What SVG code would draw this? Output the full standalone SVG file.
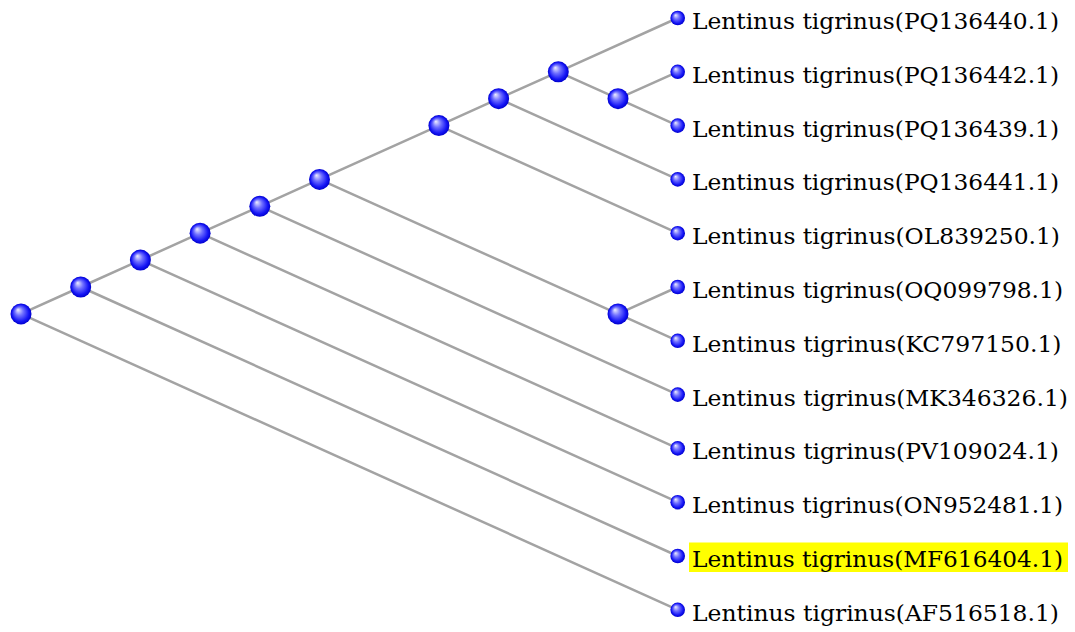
<svg xmlns="http://www.w3.org/2000/svg" width="1075" height="632" viewBox="0 0 1075 632">
<defs>
<radialGradient id="ball" cx="0.5" cy="0.5" r="0.5" fx="0.35" fy="0.3">
<stop offset="0" stop-color="#eeeeff"/>
<stop offset="0.4" stop-color="#7070ff"/>
<stop offset="0.8" stop-color="#1515f5"/>
<stop offset="1" stop-color="#0000cc"/>
</radialGradient>
</defs>
<style>
.e{stroke:#a3a3a3;stroke-width:2.5;fill:none;stroke-linecap:round}
.n{fill:url(#ball)}
</style>
<rect width="1075" height="632" fill="#ffffff"/>
<g id="connectors">
<line class="e" x1="21" y1="313.9" x2="80.7" y2="287"/>
<line class="e" x1="21" y1="313.9" x2="677.7" y2="609.8"/>
<line class="e" x1="80.7" y1="287" x2="140.4" y2="260.1"/>
<line class="e" x1="80.7" y1="287" x2="677.7" y2="556"/>
<line class="e" x1="140.4" y1="260.1" x2="200.1" y2="233.2"/>
<line class="e" x1="140.4" y1="260.1" x2="677.7" y2="502.2"/>
<line class="e" x1="200.1" y1="233.2" x2="259.8" y2="206.3"/>
<line class="e" x1="200.1" y1="233.2" x2="677.7" y2="448.4"/>
<line class="e" x1="259.8" y1="206.3" x2="319.5" y2="179.4"/>
<line class="e" x1="259.8" y1="206.3" x2="677.7" y2="394.6"/>
<line class="e" x1="319.5" y1="179.4" x2="438.9" y2="125.6"/>
<line class="e" x1="319.5" y1="179.4" x2="618" y2="313.9"/>
<line class="e" x1="618" y1="313.9" x2="677.7" y2="287"/>
<line class="e" x1="618" y1="313.9" x2="677.7" y2="340.8"/>
<line class="e" x1="438.9" y1="125.6" x2="498.6" y2="98.7"/>
<line class="e" x1="438.9" y1="125.6" x2="677.7" y2="233.2"/>
<line class="e" x1="498.6" y1="98.7" x2="558.3" y2="71.8"/>
<line class="e" x1="498.6" y1="98.7" x2="677.7" y2="179.4"/>
<line class="e" x1="558.3" y1="71.8" x2="677.7" y2="18"/>
<line class="e" x1="558.3" y1="71.8" x2="618" y2="98.7"/>
<line class="e" x1="618" y1="98.7" x2="677.7" y2="71.8"/>
<line class="e" x1="618" y1="98.7" x2="677.7" y2="125.6"/>
</g>
<g id="internal-nodes">
<circle id="n0" class="n" cx="21" cy="313.9" r="10.5"/>
<circle id="n1" class="n" cx="80.7" cy="287" r="10.5"/>
<circle id="n2" class="n" cx="140.4" cy="260.1" r="10.5"/>
<circle id="n3" class="n" cx="200.1" cy="233.2" r="10.5"/>
<circle id="n4" class="n" cx="259.8" cy="206.3" r="10.5"/>
<circle id="n5" class="n" cx="319.5" cy="179.4" r="10.5"/>
<circle id="n6" class="n" cx="438.9" cy="125.6" r="10.5"/>
<circle id="n7" class="n" cx="498.6" cy="98.7" r="10.5"/>
<circle id="n8" class="n" cx="558.3" cy="71.8" r="10.5"/>
<circle id="n9" class="n" cx="618" cy="98.7" r="10.5"/>
<circle id="n10" class="n" cx="618" cy="313.9" r="10.5"/>
</g>
<g id="leaves" font-family="'DejaVu Serif', serif" font-size="22.5" fill="#000000">
<g id="leaf-PQ136440"><circle class="n" cx="677.7" cy="18" r="7.3"/><text x="692" y="29" textLength="367" lengthAdjust="spacingAndGlyphs">Lentinus tigrinus(PQ136440.1)</text></g>
<g id="leaf-PQ136442"><circle class="n" cx="677.7" cy="71.8" r="7.3"/><text x="692" y="82.8" textLength="367" lengthAdjust="spacingAndGlyphs">Lentinus tigrinus(PQ136442.1)</text></g>
<g id="leaf-PQ136439"><circle class="n" cx="677.7" cy="125.6" r="7.3"/><text x="692" y="136.6" textLength="367" lengthAdjust="spacingAndGlyphs">Lentinus tigrinus(PQ136439.1)</text></g>
<g id="leaf-PQ136441"><circle class="n" cx="677.7" cy="179.4" r="7.3"/><text x="692" y="190.4" textLength="367" lengthAdjust="spacingAndGlyphs">Lentinus tigrinus(PQ136441.1)</text></g>
<g id="leaf-OL839250"><circle class="n" cx="677.7" cy="233.2" r="7.3"/><text x="692" y="244.2" textLength="368" lengthAdjust="spacingAndGlyphs">Lentinus tigrinus(OL839250.1)</text></g>
<g id="leaf-OQ099798"><circle class="n" cx="677.7" cy="287" r="7.3"/><text x="692" y="298" textLength="371" lengthAdjust="spacingAndGlyphs">Lentinus tigrinus(OQ099798.1)</text></g>
<g id="leaf-KC797150"><circle class="n" cx="677.7" cy="340.8" r="7.3"/><text x="692" y="351.8" textLength="369.5" lengthAdjust="spacingAndGlyphs">Lentinus tigrinus(KC797150.1)</text></g>
<g id="leaf-MK346326"><circle class="n" cx="677.7" cy="394.6" r="7.3"/><text x="692" y="405.6" textLength="376" lengthAdjust="spacingAndGlyphs">Lentinus tigrinus(MK346326.1)</text></g>
<g id="leaf-PV109024"><circle class="n" cx="677.7" cy="448.4" r="7.3"/><text x="692" y="459.4" textLength="367" lengthAdjust="spacingAndGlyphs">Lentinus tigrinus(PV109024.1)</text></g>
<g id="leaf-ON952481"><circle class="n" cx="677.7" cy="502.2" r="7.3"/><text x="692" y="513.2" textLength="371" lengthAdjust="spacingAndGlyphs">Lentinus tigrinus(ON952481.1)</text></g>
<g id="leaf-MF616404"><rect x="689" y="542.5" width="379" height="29.5" fill="#ffff00"/><circle class="n" cx="677.7" cy="556" r="7.3"/><text x="692" y="567" textLength="371" lengthAdjust="spacingAndGlyphs">Lentinus tigrinus(MF616404.1)</text></g>
<g id="leaf-AF516518"><circle class="n" cx="677.7" cy="609.8" r="7.3"/><text x="692" y="620.8" textLength="367" lengthAdjust="spacingAndGlyphs">Lentinus tigrinus(AF516518.1)</text></g>
</g>
</svg>
